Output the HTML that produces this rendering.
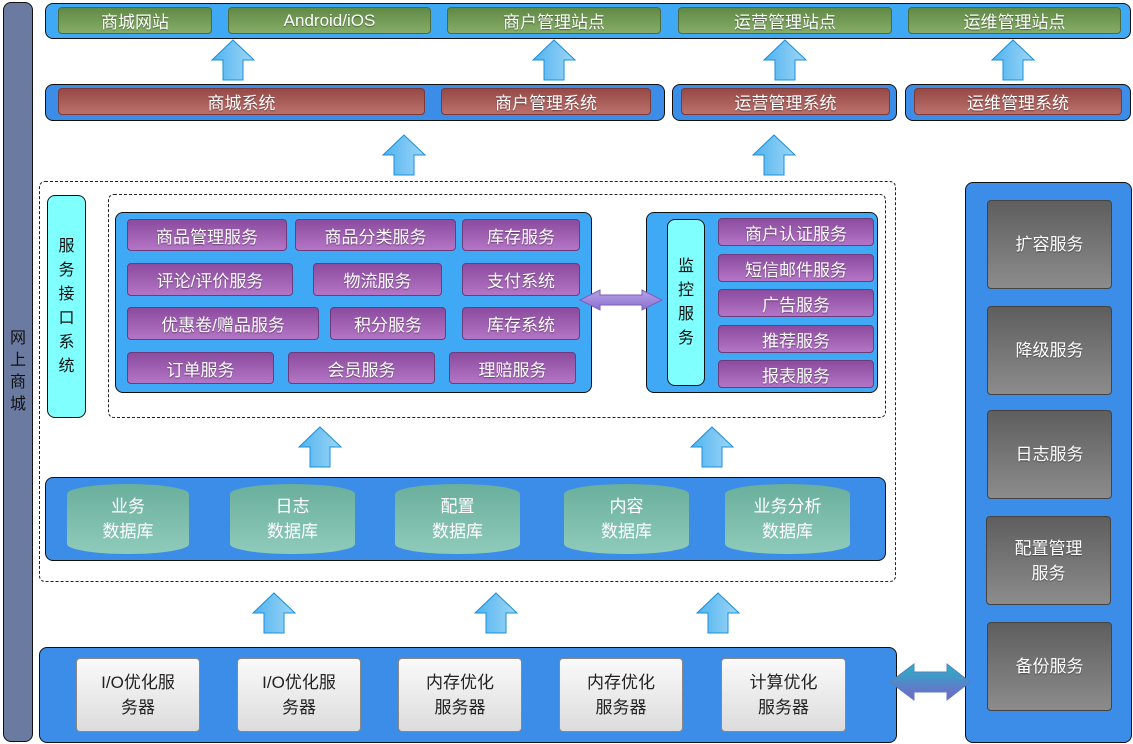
<!DOCTYPE html>
<html><head><meta charset="utf-8"><style>
body{margin:0;width:1133px;height:744px;background:#fff;position:relative;overflow:hidden;font-family:"Liberation Sans","Noto Sans CJK SC",sans-serif}
div{position:absolute;box-sizing:border-box}
.p{border:1.5px solid #111;border-radius:8px}
.lb{background:#3fa9f5}.db{background:#3b8de8}
.b{display:flex;align-items:center;justify-content:center;text-align:center;color:#fff;font-size:17px;border-radius:4px;text-shadow:0 1px 1px rgba(0,0,0,.4)}
.g{background:linear-gradient(#5f8a45,#86ad68);border:1px solid #4d6b3a}
.r{background:linear-gradient(#954a48,#bd706b);border:1px solid #7a3a38}
.pu{background:linear-gradient(#8b4b9e,#b475c6);border:1px solid #6d3a7c;font-size:17px}
.gr{background:linear-gradient(#5e5e5e,#8c8c8c);border:1px solid #444;font-size:17px;line-height:25px}
.lg{background:linear-gradient(#fafafa,#dcdcdc);border:1px solid #888;color:#222;text-shadow:none;font-size:17px;line-height:25px}
.cy{background:#80ffff;border:1.5px solid #111;border-radius:8px;color:#111;font-size:16px;text-align:center;line-height:24px;display:flex;align-items:center;justify-content:center}
.dash{border:1.2px dashed #222;border-radius:6px}
.cyl{background:linear-gradient(#6aae9c,#8fcbbb);border-radius:50%/10px;color:#fff;font-size:17px;line-height:25px;display:flex;align-items:center;justify-content:center;text-align:center}
</style></head><body>
<div class="p" style="left:3px;top:2px;width:30px;height:740px;background:#6b7aa1;display:flex;align-items:center;justify-content:center;color:#111;font-size:16px;line-height:22px;text-align:center">网<br>上<br>商<br>城</div>

<div class="p lb" style="left:45px;top:3px;width:1086px;height:36px"></div>
<div class="b g" style="left:58px;top:7px;width:154px;height:27px">商城网站</div>
<div class="b g" style="left:228px;top:7px;width:203px;height:27px">Android/iOS</div>
<div class="b g" style="left:447px;top:7px;width:214px;height:27px">商户管理站点</div>
<div class="b g" style="left:678px;top:7px;width:214px;height:27px">运营管理站点</div>
<div class="b g" style="left:908px;top:7px;width:213px;height:27px">运维管理站点</div>

<div class="p db" style="left:45px;top:84px;width:620px;height:37px"></div>
<div class="p db" style="left:672px;top:84px;width:225px;height:37px"></div>
<div class="p db" style="left:905px;top:84px;width:226px;height:37px"></div>
<div class="b r" style="left:58px;top:88px;width:367px;height:27px">商城系统</div>
<div class="b r" style="left:441px;top:88px;width:210px;height:27px">商户管理系统</div>
<div class="b r" style="left:681px;top:88px;width:209px;height:27px">运营管理系统</div>
<div class="b r" style="left:914px;top:88px;width:208px;height:27px">运维管理系统</div>

<div class="dash" style="left:39px;top:181px;width:857px;height:401px"></div>
<div class="dash" style="left:108px;top:194px;width:778px;height:224px"></div>
<div class="cy" style="left:47px;top:195px;width:39px;height:223px">服<br>务<br>接<br>口<br>系<br>统</div>

<div class="p lb" style="left:115px;top:212px;width:477px;height:181px"></div>
<div class="b pu" style="left:127px;top:219px;width:160px;height:32px">商品管理服务</div>
<div class="b pu" style="left:295px;top:219px;width:161px;height:32px">商品分类服务</div>
<div class="b pu" style="left:462px;top:219px;width:118px;height:32px">库存服务</div>
<div class="b pu" style="left:127px;top:263px;width:166px;height:33px">评论/评价服务</div>
<div class="b pu" style="left:313px;top:263px;width:129px;height:33px">物流服务</div>
<div class="b pu" style="left:462px;top:263px;width:118px;height:33px">支付系统</div>
<div class="b pu" style="left:127px;top:307px;width:192px;height:33px">优惠卷/赠品服务</div>
<div class="b pu" style="left:330px;top:307px;width:116px;height:33px">积分服务</div>
<div class="b pu" style="left:462px;top:307px;width:118px;height:33px">库存系统</div>
<div class="b pu" style="left:127px;top:352px;width:147px;height:32px">订单服务</div>
<div class="b pu" style="left:288px;top:352px;width:147px;height:32px">会员服务</div>
<div class="b pu" style="left:449px;top:352px;width:127px;height:32px">理赔服务</div>

<div class="p lb" style="left:646px;top:212px;width:232px;height:181px"></div>
<div class="cy" style="left:667px;top:219px;width:38px;height:167px">监<br>控<br>服<br>务</div>
<div class="b pu" style="left:718px;top:218px;width:156px;height:28px">商户认证服务</div>
<div class="b pu" style="left:718px;top:254px;width:156px;height:28px">短信邮件服务</div>
<div class="b pu" style="left:718px;top:289px;width:156px;height:28px">广告服务</div>
<div class="b pu" style="left:718px;top:325px;width:156px;height:28px">推荐服务</div>
<div class="b pu" style="left:718px;top:360px;width:156px;height:28px">报表服务</div>

<div class="p db" style="left:45px;top:477px;width:841px;height:84px"></div>
<div class="cyl" style="left:67px;top:484px;width:122px;height:70px">业务<br>数据库</div>
<div class="cyl" style="left:230px;top:484px;width:125px;height:70px">日志<br>数据库</div>
<div class="cyl" style="left:395px;top:484px;width:125px;height:70px">配置<br>数据库</div>
<div class="cyl" style="left:564px;top:484px;width:125px;height:70px">内容<br>数据库</div>
<div class="cyl" style="left:725px;top:484px;width:125px;height:70px">业务分析<br>数据库</div>

<div class="p db" style="left:39px;top:647px;width:858px;height:96px"></div>
<div class="b lg" style="left:76px;top:658px;width:124px;height:74px">I/O优化服<br>务器</div>
<div class="b lg" style="left:237px;top:658px;width:124px;height:74px">I/O优化服<br>务器</div>
<div class="b lg" style="left:398px;top:658px;width:124px;height:74px">内存优化<br>服务器</div>
<div class="b lg" style="left:559px;top:658px;width:124px;height:74px">内存优化<br>服务器</div>
<div class="b lg" style="left:721px;top:658px;width:125px;height:74px">计算优化<br>服务器</div>

<div class="p db" style="left:965px;top:182px;width:167px;height:561px"></div>
<div class="b gr" style="left:987px;top:200px;width:125px;height:89px">扩容服务</div>
<div class="b gr" style="left:987px;top:306px;width:125px;height:89px">降级服务</div>
<div class="b gr" style="left:987px;top:410px;width:125px;height:89px">日志服务</div>
<div class="b gr" style="left:986px;top:516px;width:125px;height:89px">配置管理<br>服务</div>
<div class="b gr" style="left:987px;top:622px;width:125px;height:89px">备份服务</div>

<svg style="position:absolute;left:0;top:0" width="1133" height="744">
<defs>
<linearGradient id="ag" x1="0" x2="1"><stop offset="0" stop-color="#4fb3ef"/><stop offset="1" stop-color="#9ed6f7"/></linearGradient>
<linearGradient id="pg" x1="0" y1="0" x2="0" y2="1"><stop offset="0" stop-color="#b9a3e6"/><stop offset="1" stop-color="#8a6fd0"/></linearGradient>
<linearGradient id="tg" x1="0" y1="0" x2="0" y2="1"><stop offset="0" stop-color="#25b4c8"/><stop offset="1" stop-color="#7a62c8"/></linearGradient>
<g id="up"><polygon points="0,-20 21,0 10,0 10,20 -10,20 -10,0 -21,0" fill="url(#ag)" stroke="#1a8fd8" stroke-width="1"/></g>
</defs>
<use href="#up" x="233" y="60"/><use href="#up" x="554" y="60"/><use href="#up" x="785" y="60"/><use href="#up" x="1013" y="60"/>
<use href="#up" x="404" y="155"/><use href="#up" x="774" y="155"/>
<use href="#up" x="320" y="447"/><use href="#up" x="712" y="447"/>
<use href="#up" x="274" y="613"/><use href="#up" x="496" y="613"/><use href="#up" x="718" y="613"/>
<polygon points="580,300 600,290 600,295 642,295 642,290 662,300 642,310 642,305 600,305 600,310" fill="url(#pg)" stroke="#7a5fc0"/>
<polygon points="890,682 914,664 914,672 947,672 947,664 970,682 947,700 947,692 914,692 914,700" fill="url(#tg)" stroke="#5a7fc0"/>
</svg>
</body></html>
